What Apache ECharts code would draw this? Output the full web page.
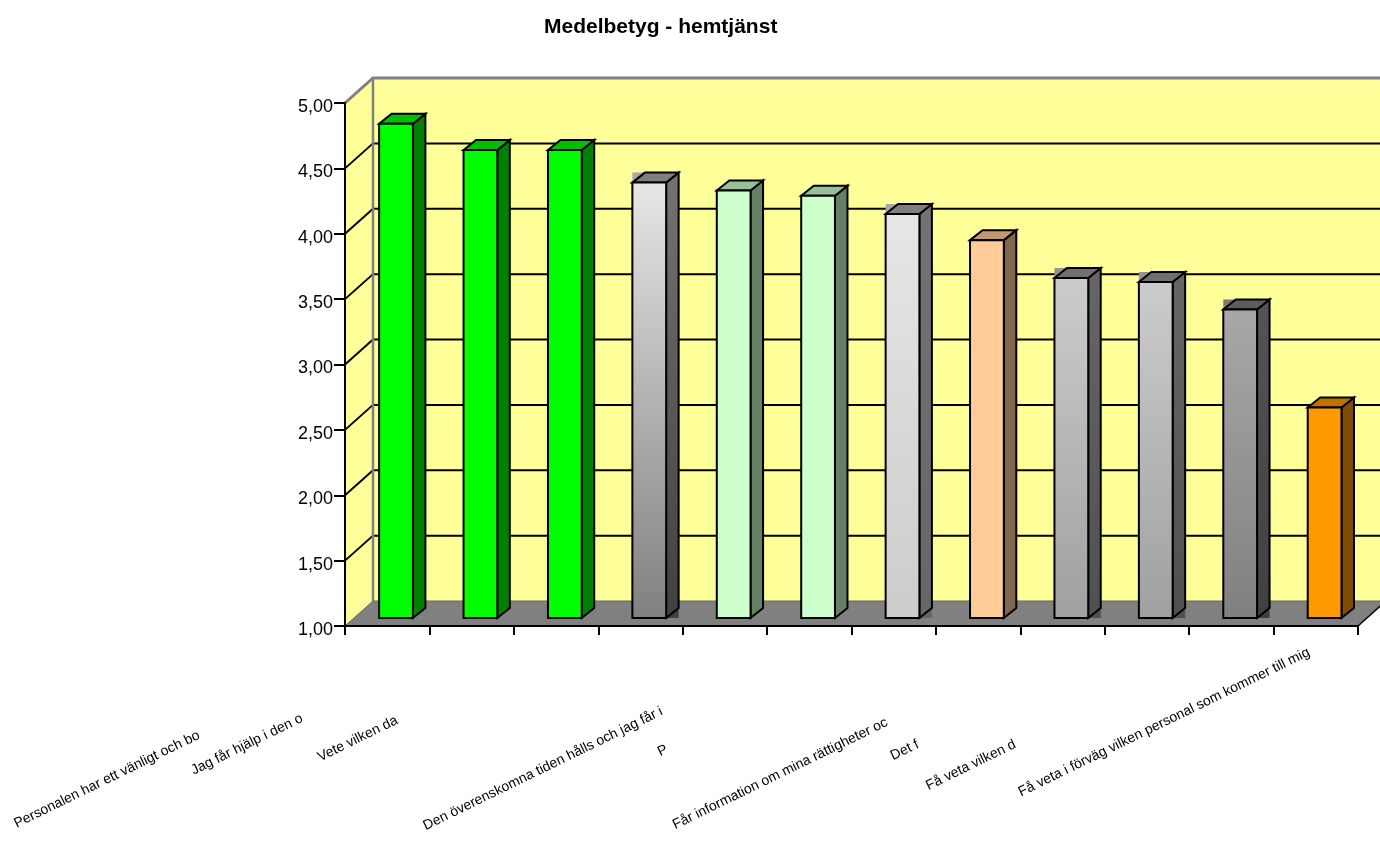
<!DOCTYPE html>
<html>
<head>
<meta charset="utf-8">
<style>
  html, body { margin: 0; padding: 0; background: #fff; }
  #chart { width: 1380px; height: 846px; }
</style>
<script src="https://cdn.jsdelivr.net/npm/echarts@6/dist/echarts.min.js"></script>
</head>
<body>
<div id="chart"></div>
<script>
var categories = [
  'Personalen har ett vänligt och bo', 'Jag får hjälp i den o', 'Vete vilken da',
  'Den överenskomna tiden hålls och jag får i', 'P', '',
  'Får information om mina rättigheter oc', 'Det f', 'Få veta vilken d', '', '',
  'Få veta i förväg vilken personal som kommer till mig'
];
var values = [4.78, 4.58, 4.58, 4.33, 4.27, 4.23, 4.09, 3.89, 3.60, 3.57, 3.36, 2.61];
var topColors = ['#00ff00', '#00ff00', '#00ff00', '#e6e6e6', '#ccffcc', '#ccffcc', '#e6e6e6', '#ffcc99', '#cccccc', '#cccccc', '#a8a8a8', '#ff9900'];
var bottomColors = ['#00ff00', '#00ff00', '#00ff00', '#808080', '#ccffcc', '#ccffcc', '#cccccc', '#ffcc99', '#a0a0a0', '#a0a0a0', '#808080', '#ff9900'];
var yTicks = [1, 1.5, 2, 2.5, 3, 3.5, 4, 4.5, 5];
// where each rotated label ends, the source chart clips them oddly
var labelEnds = [[202, 741], [305, 724], [400, 726], [665, 717], [670, 755], null, [890, 728], [921, 750], [1018, 750], null, null, [1312, 658]];

var FONT = '"Liberation Sans", Arial, sans-serif';
var WALL_DX = 28, WALL_DY = -25;   // depth of the box
var BAR_DX = 8.8, BAR_DY = -8;     // bars stand a little behind the front edge
var SIDE_DX = 12.5, SIDE_DY = -10; // depth of a bar

function shade(hex, k) {
  var n = parseInt(hex.slice(1), 16);
  var r = Math.round((n >> 16) * k), g = Math.round(((n >> 8) & 255) * k), b = Math.round((n & 255) * k);
  return 'rgb(' + r + ',' + g + ',' + b + ')';
}

function renderWalls(params, api) {
  var g = params.coordSys;
  var x0 = g.x, x1 = g.x + g.width, yT = g.y, yB = g.y + g.height;
  var line = { stroke: '#000', lineWidth: 2, fill: null };
  var kids = [
    { type: 'polygon', shape: { points: [[x0 + WALL_DX, yT + WALL_DY], [x1 + WALL_DX, yT + WALL_DY], [x1 + WALL_DX, yB + WALL_DY], [x0 + WALL_DX, yB + WALL_DY]] }, style: { fill: '#ffff99' } },
    { type: 'polygon', shape: { points: [[x0, yT], [x0 + WALL_DX, yT + WALL_DY], [x0 + WALL_DX, yB + WALL_DY], [x0, yB]] }, style: { fill: '#ffff99' } },
    { type: 'polygon', shape: { points: [[x0, yB], [x0 + WALL_DX, yB + WALL_DY], [x1 + WALL_DX, yB + WALL_DY], [x1, yB]] }, style: { fill: '#808080' } }
  ];
  yTicks.forEach(function (t) {
    if (t === 1 || t === 5) return;
    var y = api.coord([0, t])[1];
    kids.push({ type: 'polyline', shape: { points: [[x0, y], [x0 + WALL_DX, y + WALL_DY], [x1 + WALL_DX, y + WALL_DY]] }, style: line });
  });
  kids.push({ type: 'polyline', shape: { points: [[x0, yT], [x0 + WALL_DX, yT + WALL_DY], [x1 + WALL_DX, yT + WALL_DY]] }, style: { stroke: '#808080', lineWidth: 3, fill: null } });
  kids.push({ type: 'polyline', shape: { points: [[x0 + WALL_DX, yT + WALL_DY], [x0 + WALL_DX, yB + WALL_DY]] }, style: { stroke: '#808080', lineWidth: 2.5, fill: null } });
  kids.push({ type: 'polyline', shape: { points: [[x0, yB], [x0 + WALL_DX, yB + WALL_DY], [x1 + WALL_DX, yB + WALL_DY]] }, style: { stroke: '#666', lineWidth: 1, fill: null } });
  kids.push({ type: 'polyline', shape: { points: [[x1, yB], [x1 + WALL_DX, yB + WALL_DY]] }, style: { stroke: '#000', lineWidth: 1.5, fill: null } });
  return { type: 'group', children: kids };
}

function renderBar(params, api) {
  var i = api.value(0);
  var top = api.coord([i, api.value(1)]);
  var base = api.coord([i, 1]);
  var w = api.size([1, 0])[0] * 0.4;
  var xL = top[0] - w / 2 + BAR_DX, xR = xL + w;
  var yT = top[1] + BAR_DY, yB = base[1] + BAR_DY;
  var hi = topColors[i], lo = bottomColors[i];
  var edge = { stroke: '#000', lineWidth: 2, lineJoin: 'miter' };
  var kids = [];
  var graded = hi !== lo;
  if (graded) {
    // gradient bars leave a filled box behind their top and side in the source
    kids.push({ type: 'rect', shape: { x: xL, y: yT + SIDE_DY, width: w + SIDE_DX, height: -SIDE_DY }, style: { fill: shade(hi, 0.72) } });
    kids.push({ type: 'rect', shape: { x: xR, y: yB + SIDE_DY, width: SIDE_DX, height: -SIDE_DY }, style: { fill: shade(lo, 0.5) } });
  }
  kids.push({
    type: 'polygon',
    shape: { points: [[xR, yT], [xR + SIDE_DX, yT + SIDE_DY], [xR + SIDE_DX, yB + SIDE_DY], [xR, yB]] },
    style: Object.assign({ fill: new echarts.graphic.LinearGradient(0, 0, 0, 1, [{ offset: 0, color: shade(hi, 0.5) }, { offset: 1, color: shade(lo, 0.5) }]) }, edge)
  });
  kids.push({
    type: 'polygon',
    shape: { points: [[xL, yT], [xL + SIDE_DX, yT + SIDE_DY], [xR + SIDE_DX, yT + SIDE_DY], [xR, yT]] },
    style: Object.assign({ fill: shade(hi, graded ? 0.55 : 0.75) }, edge)
  });
  kids.push({
    type: 'rect',
    shape: { x: xL, y: yT, width: w, height: yB - yT },
    style: Object.assign({ fill: new echarts.graphic.LinearGradient(0, 0, 0, 1, [{ offset: 0, color: hi }, { offset: 1, color: lo }]) }, edge)
  });
  return { type: 'group', children: kids };
}

var labelGraphics = [];
categories.forEach(function (name, i) {
  if (!labelEnds[i]) return;
  labelGraphics.push({
    type: 'text',
    x: labelEnds[i][0],
    y: labelEnds[i][1],
    rotation: 26 * Math.PI / 180,
    style: { text: name, font: '14px ' + FONT, fill: '#000', textAlign: 'right', textVerticalAlign: 'bottom' }
  });
});

var chart = echarts.init(document.getElementById('chart'), null, { renderer: 'canvas' });

chart.setOption({
  animation: false,
  backgroundColor: '#fff',
  title: {
    text: 'Medelbetyg - hemtjänst',
    left: 539, top: 12,
    textStyle: { fontFamily: FONT, fontWeight: 'bold', fontSize: 21, color: '#000' }
  },
  grid: { left: 345, right: 22, top: 103, bottom: 220 },
  xAxis: {
    type: 'category',
    data: categories,
    z: 5,
    axisLine: { lineStyle: { color: '#000', width: 2 } },
    axisTick: { show: true, interval: 0, alignWithLabel: false, length: 9, lineStyle: { color: '#000', width: 2 } },
    axisLabel: { show: false },
    splitLine: { show: false }
  },
  yAxis: {
    type: 'value',
    min: 1, max: 5, interval: 0.5,
    z: 5,
    axisLine: { show: true, lineStyle: { color: '#000', width: 2 } },
    axisTick: { show: true, length: 11, lineStyle: { color: '#000', width: 2 } },
    axisLabel: {
      color: '#000', fontFamily: FONT, fontSize: 18, margin: 12,
      verticalAlign: 'top', lineHeight: 8,
      formatter: function (v) { return v.toFixed(2).replace('.', ','); }
    },
    splitLine: { show: false }
  },
  graphic: labelGraphics,
  series: [
    { type: 'custom', renderItem: renderWalls, data: [[0, 1]], silent: true, z: 1, clip: false },
    {
      type: 'custom',
      renderItem: renderBar,
      data: values.map(function (v, i) { return [i, v]; }),
      encode: { x: 0, y: 1 },
      z: 2,
      clip: false
    }
  ]
});

window.addEventListener('resize', function () { chart.resize(); });
</script>
</body>
</html>
